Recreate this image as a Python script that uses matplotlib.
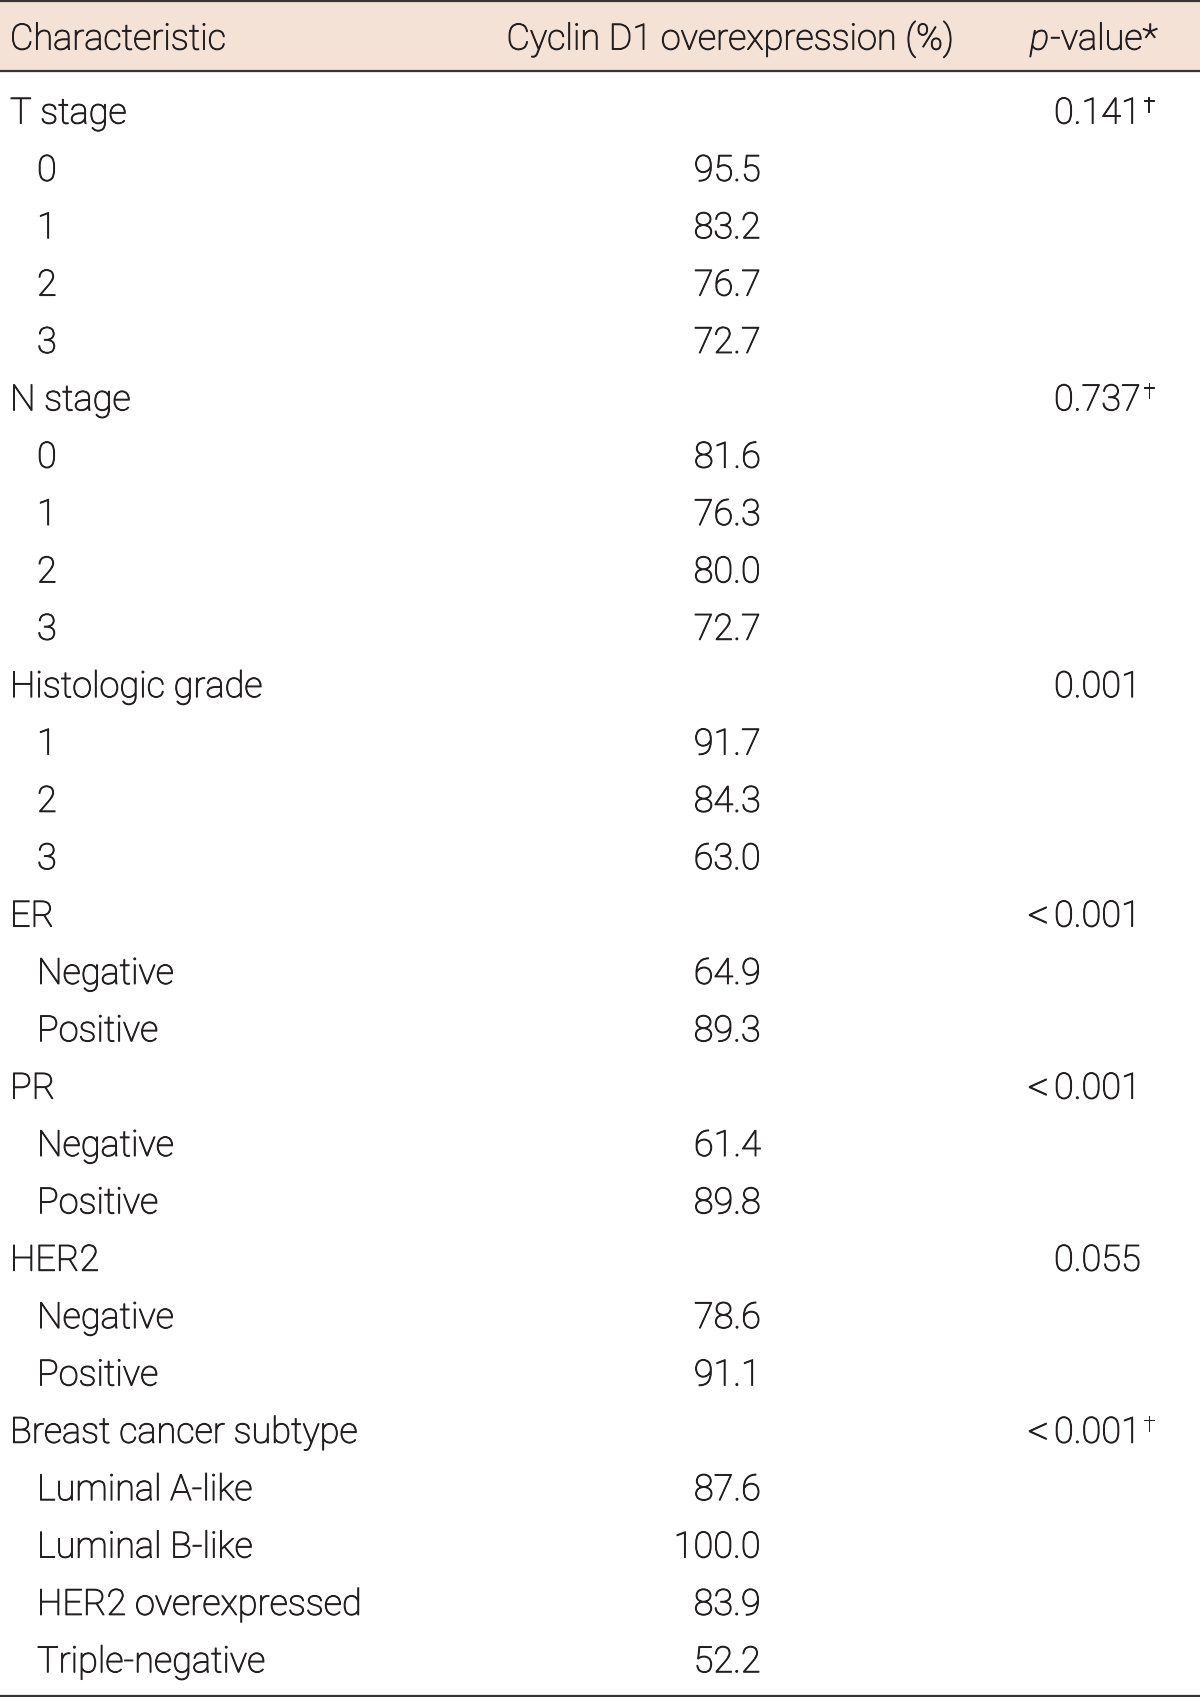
import matplotlib
matplotlib.use("Agg")
import matplotlib.pyplot as plt
import matplotlib.patheffects as pe

plt.rcParams['font.family'] = ['Roboto', 'DejaVu Sans']

# ---- data ----
header_labels = ["Characteristic", "Cyclin D1 overexpression (%)", "p-value*"]

row_labels = ["T stage", "0", "1", "2", "3",
              "N stage", "0", "1", "2", "3",
              "Histologic grade", "1", "2", "3",
              "ER", "Negative", "Positive",
              "PR", "Negative", "Positive",
              "HER2", "Negative", "Positive",
              "Breast cancer subtype", "Luminal A-like", "Luminal B-like",
              "HER2 overexpressed", "Triple-negative"]
is_group = [True, False, False, False, False,
            True, False, False, False, False,
            True, False, False, False,
            True, False, False,
            True, False, False,
            True, False, False,
            True, False, False, False, False]
overexpr = [None, 95.5, 83.2, 76.7, 72.7,
            None, 81.6, 76.3, 80.0, 72.7,
            None, 91.7, 84.3, 63.0,
            None, 64.9, 89.3,
            None, 61.4, 89.8,
            None, 78.6, 91.1,
            None, 87.6, 100.0, 83.9, 52.2]
p_values = ["0.141", None, None, None, None,
            "0.737", None, None, None, None,
            "0.001", None, None, None,
            "<0.001", None, None,
            "<0.001", None, None,
            "0.055", None, None,
            "<0.001", None, None, None, None]
p_dagger = [True, False, False, False, False,
            True, False, False, False, False,
            False, False, False, False,
            False, False, False,
            False, False, False,
            False, False, False,
            True, False, False, False, False]

# ---- layout ----
W, H = 1200, 1697
fig = plt.figure(figsize=(W / 100, H / 100), dpi=100)
ax = fig.add_axes([0, 0, 1, 1])
ax.set_xlim(0, W)
ax.set_ylim(H, 0)
ax.axis('off')

TXT = '#231f20'
LINE = '#3a3335'
BG = '#f4e2d7'
FS = 26
WT = 'light'
EFF = [pe.withStroke(linewidth=0.7, foreground=TXT)]


def put(x, y, s, ha='left', fs=FS, **kw):
    return ax.text(x, y, s, fontsize=fs, weight=WT, color=TXT, va='baseline',
                   ha=ha, path_effects=EFF, **kw)


ax.axhspan(0, 70.5, color=BG, zorder=0)
for yy in (1.2, 70.5, 1695.5):
    ax.axhline(yy, color=LINE, lw=1.6, zorder=2)

hb = 49.5
put(10, hb, header_labels[0])
put(730, hb, header_labels[1], ha='center')

# p-value header: italic p + rest
fig.canvas.draw()
r = fig.canvas.get_renderer()
tp = put(1030, hb, header_labels[2][0], style='italic')
bb = tp.get_window_extent(r)
x_end = ax.transData.inverted().transform((bb.x1, bb.y0))[0]
put(x_end + 1, hb, header_labels[2][1:])

y0 = 123.5
dy = 57.36
for i, lab in enumerate(row_labels):
    y = y0 + i * dy
    x = 10 if is_group[i] else 37
    put(x, y, lab)
    v = overexpr[i]
    if v is not None:
        put(761, y, f"{v:.1f}", ha='right')
    p = p_values[i]
    if p is not None:
        num = p.lstrip('<')
        tn = put(1054, y, num)
        if p.startswith('<'):
            put(1049, y + 2, '<', ha='right', fs=30)
        if p_dagger[i]:
            bb = tn.get_window_extent(r)
            xe = ax.transData.inverted().transform((bb.x1, bb.y0))[0]
            put(xe + 2, y - 12, '\u2020', fs=15)

fig.savefig('out.png', dpi=100)
